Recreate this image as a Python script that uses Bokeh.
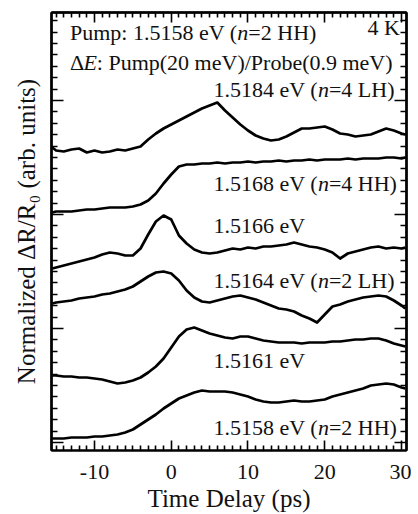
from bokeh.plotting import figure
from bokeh.models import Range1d, LinearAxis, FixedTicker, Label
from bokeh.embed import file_html
from bokeh.resources import INLINE

# ---------------- data ----------------
t_ps = [-15.5, -15, -14, -13, -12, -11, -10, -9, -8, -7, -6, -5, -4, -3, -2, -1,
        0, 1, 2, 3, 4, 5, 6, 7, 8, 9, 10, 11, 12, 13, 14, 15, 16, 17, 18, 19,
        20, 21, 22, 23, 24, 25, 26, 27, 28, 29, 30, 30.5]

# vertically offset traces (arb. units)
tr_15184 = [295, 292, 291, 293, 294, 290, 292, 290, 291, 293, 292, 294, 296, 303, 309, 314,
            318, 322, 326, 330, 334, 337, 340, 332, 325, 318, 312, 307, 304, 302, 303, 306,
            310, 314, 314, 315, 316, 313, 309, 308, 306, 307, 308, 311, 314, 312, 309, 308]
tr_15168 = [230, 231, 231, 231, 232, 233, 233, 234, 235, 235, 235, 236, 238, 242, 249, 259,
            268, 276, 278, 278, 279, 279, 280, 279, 280, 280, 281, 280, 281, 281, 282, 281,
            282, 282, 283, 282, 283, 283, 283, 284, 283, 284, 284, 284, 285, 285, 284, 285]
tr_15166 = [174, 175, 177, 179, 181, 183, 185, 188, 190, 189, 187, 187, 194, 208, 221, 227,
            223, 207, 199, 193, 190, 189, 190, 192, 194, 193, 195, 194, 196, 196, 197, 198,
            200, 198, 196, 195, 193, 190, 184, 189, 191, 193, 195, 196, 194, 195, 194, 195]
tr_15164 = [139, 140, 141, 142, 144, 145, 146, 148, 149, 151, 153, 156, 161, 166, 170, 171,
            169, 162, 152, 145, 141, 140, 142, 144, 146, 147, 145, 143, 140, 137, 134, 133,
            131, 127, 124, 120, 128, 136, 138, 141, 143, 145, 146, 147, 146, 142, 137, 134]
tr_15161 = [67, 67, 66, 66, 65, 65, 64, 63, 61, 59, 60, 62, 65, 70, 76, 84,
            95, 106, 113, 115, 112, 109, 107, 105, 104, 106, 106, 104, 102, 101, 100, 100,
            100, 99, 100, 100, 100, 101, 101, 102, 103, 103, 104, 104, 102, 99, 97, 96]
tr_15158 = [4, 4, 4, 5, 5, 5, 6, 6, 7, 8, 10, 13, 18, 23, 28, 34,
            39, 44, 47, 50, 52, 51, 51, 51, 50, 48, 46, 43, 41, 40, 40, 41,
            42, 41, 41, 42, 43, 46, 48, 50, 52, 54, 57, 58, 59, 58, 55, 54]

x_ticks = [-10, 0, 10, 20, 30]
x_minor = [-15, -14, -13, -12, -11, -9, -8, -7, -6, -5, -4, -3, -2, -1,
           1, 2, 3, 4, 5, 6, 7, 8, 9, 11, 12, 13, 14, 15, 16, 17, 18, 19,
           21, 22, 23, 24, 25, 26, 27, 28, 29]
y_ticks = [0, 114, 228, 342]
y_minor = [round(-11.4 + 11.4 * i, 1) for i in range(0, 40)]
y_minor = [v for v in y_minor if min(abs(v - m) for m in y_ticks) > 1]

FONT = "Liberation Serif"
INK = "#111111"

# Times / Liberation Serif advance widths (per 1000 em)
W = {" ": 250, "(": 333, ")": 333, ".": 250, ":": 278, "/": 278, "=": 564,
     "0": 500, "1": 500, "2": 500, "3": 500, "4": 500, "5": 500, "6": 500,
     "7": 500, "8": 500, "9": 500, "e": 444, "V": 722, "H": 722, "L": 611,
     "P": 556, "u": 500, "m": 778, "p": 500, "r": 333, "o": 500, "b": 500,
     "n": 500, "E": 611, "Δ": 612, "K": 722}


def tw(s, size):
    return sum(W.get(c, 500) for c in s) * size / 1000.0


p = figure(width=411, height=514, x_range=Range1d(-15.6, 30.65), y_range=Range1d(-8, 430),
           output_backend="svg", toolbar_location=None,
           x_axis_location=None, y_axis_location=None,
           min_border_left=51, min_border_right=5, min_border_top=12, min_border_bottom=64)
p.xgrid.visible = False
p.ygrid.visible = False
p.outline_line_color = "black"
p.outline_line_width = 2
p.background_fill_color = "white"
p.border_fill_color = "white"


def tick_axis(ticks, tick_len, side, label=None):
    """Unlabelled axis drawing inward ticks at the given positions."""
    ax = LinearAxis(ticker=FixedTicker(ticks=[], minor_ticks=ticks))
    ax.axis_line_color = "black"
    ax.axis_line_width = 2
    ax.minor_tick_line_color = "black"
    ax.minor_tick_line_width = 1.6
    ax.minor_tick_in = tick_len
    ax.minor_tick_out = 0
    ax.major_tick_in = 0
    ax.major_tick_out = 0
    ax.major_label_standoff = 0
    if label:
        ax.axis_label = label
        ax.axis_label_text_font = FONT
        ax.axis_label_text_font_size = "25px"
        ax.axis_label_text_font_style = "normal"
        ax.axis_label_text_color = INK
        ax.axis_label_standoff = 12
    p.add_layout(ax, side)
    return ax


# bottom axis with labels
bx = LinearAxis(ticker=FixedTicker(ticks=x_ticks, minor_ticks=x_minor))
bx.axis_line_color = "black"
bx.axis_line_width = 2
bx.major_tick_line_color = "black"
bx.minor_tick_line_color = "black"
bx.major_tick_line_width = 1.6
bx.minor_tick_line_width = 1.6
bx.major_tick_in = 10
bx.major_tick_out = 0
bx.minor_tick_in = 5
bx.minor_tick_out = 0
bx.major_label_text_font = FONT
bx.major_label_text_font_size = "22px"
bx.major_label_text_color = INK
bx.major_label_standoff = 14
bx.major_label_overrides = {v: str(v) for v in x_ticks}
bx.axis_label = "Time Delay (ps)"
bx.axis_label_text_font = FONT
bx.axis_label_text_font_size = "25px"
bx.axis_label_text_font_style = "normal"
bx.axis_label_text_color = INK
bx.axis_label_standoff = 3
p.add_layout(bx, "below")

tick_axis(x_minor, 5, "above")
tick_axis(x_ticks, 10, "above")
tick_axis(y_minor, 6, "right")
tick_axis(y_ticks, 12, "right")
tick_axis(y_minor, 6, "left")
tick_axis(y_ticks, 12, "left", label="Normalized ΔR/R₀ (arb. units)")

for ys in [tr_15184, tr_15168, tr_15166, tr_15164, tr_15161, tr_15158]:
    p.line(t_ps, ys, line_color="black", line_width=2.7, line_join="round")

FS = 22


def label_parts(x, y, parts, align="left"):
    """parts: list of (text, italic). Placed left to right from x (data units)."""
    total = sum(tw(s, FS) for s, _ in parts)
    off = 0.0 if align == "left" else -total
    for s, it in parts:
        p.add_layout(Label(x=x, y=y, x_offset=off, text=s, text_font=FONT,
                           text_font_size=f"{FS}px", text_color=INK,
                           text_font_style="italic" if it else "normal",
                           text_align="left", text_baseline="middle"))
        off += tw(s, FS)


label_parts(-13.2, 410, [("Pump: 1.5158 eV (", False), ("n", True), ("=2 HH)", False)])
label_parts(-13.2, 380, [("Δ", False), ("E", True), (": Pump(20 meV)/Probe(0.9 meV)", False)])
label_parts(29.8, 415, [("4 K", False)], align="right")
label_parts(5.5, 353, [("1.5184 eV (", False), ("n", True), ("=4 LH)", False)])
label_parts(5.5, 259, [("1.5168 eV (", False), ("n", True), ("=4 HH)", False)])
label_parts(5.5, 217, [("1.5166 eV", False)])
label_parts(5.5, 162, [("1.5164 eV (", False), ("n", True), ("=2 LH)", False)])
label_parts(5.5, 82, [("1.5161 eV", False)])
label_parts(5.5, 15, [("1.5158 eV (", False), ("n", True), ("=2 HH)", False)])

open("out.html", "w").write(file_html(p, INLINE))
